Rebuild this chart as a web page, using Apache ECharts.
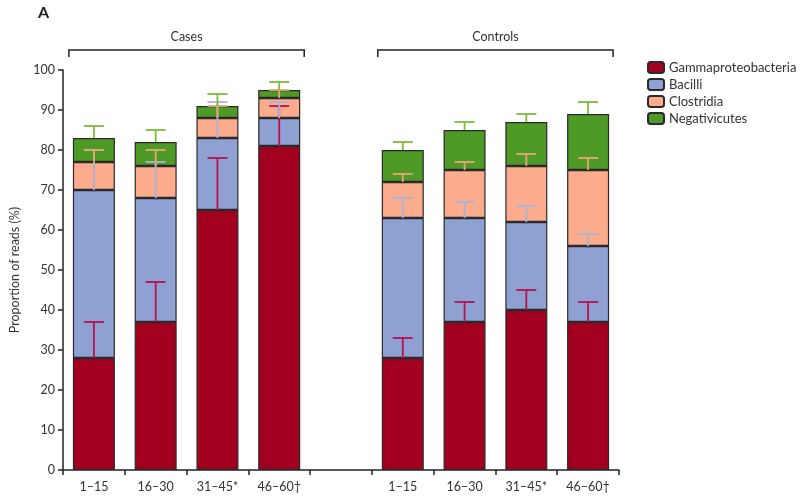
<!DOCTYPE html>
<html>
<head>
<meta charset="utf-8">
<script src="https://cdn.jsdelivr.net/npm/echarts@6/dist/echarts.min.js"></script>
<style>
  html, body { margin: 0; padding: 0; background: #fff; }
  #main { width: 800px; height: 498px; }
</style>
</head>
<body>
<div id="main"></div>
<script>
// 年龄段（中间空一格把 Cases 和 Controls 分开）
var categories = ['1–15', '16–30', '31–45*', '46–60†', '', '1–15', '16–30', '31–45*', '46–60†'];
var seriesNames = ['Gammaproteobacteria', 'Bacilli', 'Clostridia', 'Negativicutes'];

// 每段高度（%）
var gamma = [28, 37, 65, 81, '-', 28, 37, 40, 37];
var bacilli = [42, 31, 18, 7, '-', 35, 26, 22, 19];
var clostridia = [7, 8, 5, 5, '-', 9, 12, 14, 19];
var negativicutes = [6, 6, 3, 2, '-', 8, 10, 11, 14];

// 误差线长度（向上）
var gammaErr = [9, 10, 13, 10, '-', 5, 5, 5, 5];
var bacilliErr = [10, 9, 9, 4, '-', 5, 4, 4, 3];
var clostridiaErr = [3, 4, 3, 2, '-', 2, 2, 3, 3];
var negativicutesErr = [3, 3, 3, 2, '-', 2, 2, 2, 3];

var yTicks = [0, 10, 20, 30, 40, 50, 60, 70, 80, 90, 100];

var barColors = ['#a3001f', '#8fa1d2', '#fcab8c', '#4d9a26'];
var errColors = ['#b5124e', '#a9b3d6', '#e6a777', '#7cbc3e'];
var font = 'Lato, "Liberation Sans", sans-serif';

var values = [gamma, bacilli, clostridia, negativicutes];
var errs = [gammaErr, bacilliErr, clostridiaErr, negativicutesErr];

// 误差线数据：[类目, top1, err1, top2, err2, ...]
var errData = [];
categories.forEach(function (c, i) {
  if (gamma[i] === '-') return;
  var row = [i];
  var sum = 0;
  for (var s = 0; s < 4; s++) {
    sum += values[s][i];
    row.push(sum, errs[s][i]);
  }
  errData.push(row);
});

var chart = echarts.init(document.getElementById('main'));

var barSeries = seriesNames.map(function (name, s) {
  return {
    name: name,
    type: 'bar',
    stack: 'total',
    barWidth: 42,
    data: values[s],
    itemStyle: { color: barColors[s], borderColor: '#2a2a2a', borderWidth: 1.2 },
    emphasis: { disabled: true }
  };
});

var option = {
  animation: false,
  textStyle: { fontFamily: font },
  grid: { left: 61, right: 181, top: 70, bottom: 28 },
  legend: {
    orient: 'vertical',
    left: 647,
    top: 61,
    padding: 0,
    itemWidth: 16,
    itemHeight: 11,
    itemGap: 4,
    data: seriesNames,
    textStyle: { fontSize: 13, color: '#333', fontFamily: font }
  },
  xAxis: {
    type: 'category',
    data: categories,
    axisLine: { lineStyle: { color: '#222', width: 1.5 } },
    axisTick: { show: true, length: 5, lineStyle: { color: '#222', width: 1.5 } },
    axisLabel: { color: '#333', fontSize: 12.5, margin: 10, fontFamily: font }
  },
  yAxis: {
    type: 'value',
    min: 0,
    max: 100,
    interval: 10,
    name: 'Proportion of reads (%)',
    nameLocation: 'middle',
    nameGap: 42,
    nameTextStyle: { fontSize: 12.5, color: '#333', fontFamily: font },
    splitLine: { show: false },
    axisLine: { show: true, lineStyle: { color: '#222', width: 1.5 } },
    axisTick: { show: true, length: 5, lineStyle: { color: '#222', width: 1.5 } },
    axisLabel: {
      color: '#333', fontSize: 12.5, margin: 8, fontFamily: font,
      formatter: function (v) { return yTicks.indexOf(v) >= 0 ? String(v) : ''; }
    }
  },
  series: barSeries.concat([{
    type: 'custom',
    name: 'err',
    z: 10,
    silent: true,
    data: errData,
    encode: { x: 0, y: [1, 3, 5, 7] },
    renderItem: function (params, api) {
      var children = [];
      var cap = 10;
      for (var s = 0; s < 4; s++) {
        var top = api.value(1 + s * 2);
        var e = api.value(2 + s * 2);
        var p0 = api.coord([api.value(0), top]);
        var p1 = api.coord([api.value(0), top + e]);
        var st = { stroke: errColors[s], lineWidth: 1.8 };
        children.push({ type: 'line', shape: { x1: p0[0], y1: p0[1], x2: p1[0], y2: p1[1] }, style: st });
        children.push({ type: 'line', shape: { x1: p1[0] - cap, y1: p1[1], x2: p1[0] + cap, y2: p1[1] }, style: st });
      }
      return { type: 'group', children: children };
    }
  }])
};

chart.setOption(option);

// 顶部的 Cases / Controls 括号
function bracket(from, to, label) {
  var a = chart.convertToPixel({ xAxisIndex: 0 }, from);
  var b = chart.convertToPixel({ xAxisIndex: 0 }, to);
  var y = chart.convertToPixel({ yAxisIndex: 0 }, 105);
  var x1 = a - 25, x2 = b + 25;
  return [
    {
      type: 'polyline',
      shape: { points: [[x1, y + 7], [x1, y], [x2, y], [x2, y + 7]] },
      style: { stroke: '#222', lineWidth: 1.5, fill: null }
    },
    {
      type: 'text',
      x: (x1 + x2) / 2,
      y: y - 7,
      style: { text: label, fill: '#333', fontSize: 12.5, fontFamily: font, align: 'center', verticalAlign: 'bottom' }
    }
  ];
}

chart.setOption({
  graphic: [
    { type: 'text', left: 38, top: 5, style: { text: 'A', fontSize: 16, fontWeight: 'bold', fill: '#222', fontFamily: font } }
  ].concat(bracket(0, 3, 'Cases'), bracket(5, 8, 'Controls'))
});
</script>
</body>
</html>
